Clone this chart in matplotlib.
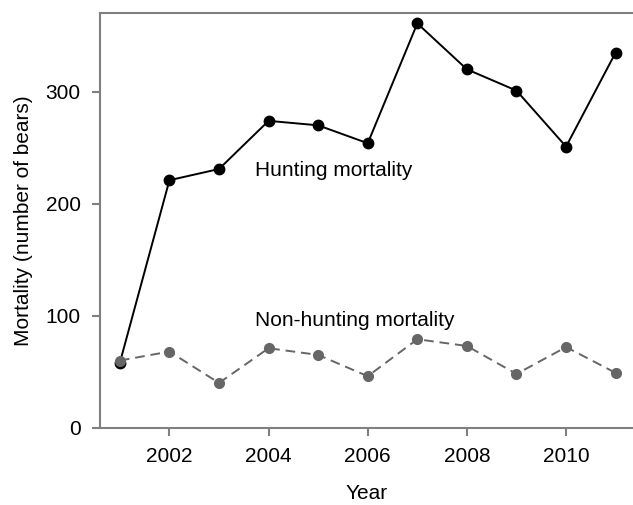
import numpy as np
from matplotlib import pyplot as plt

plt.rcParams['font.family'] = ['Liberation Sans', 'DejaVu Sans']

years = [2001, 2002, 2003, 2004, 2005, 2006, 2007, 2008, 2009, 2010, 2011]
hunting = [58, 221, 231, 274, 270, 254, 361, 320, 301, 251, 335]
non_hunting = [60, 68, 40, 71, 65, 46, 79, 73, 48, 72, 49]

fig = plt.figure(figsize=(6.33, 5.05), dpi=100)
ax = fig.add_axes([0.158, 0.153, 0.842, 0.8206])

ax.plot(years, hunting, color="black", lw=1.4, marker="o", ms=7.5, clip_on=False)
ax.plot(years, non_hunting, color="#666666", lw=1.4, ls=(0, (5, 3)), marker="o", ms=7, clip_on=False)

ax.text(2003.72, 230, "Hunting mortality", fontsize=15, va="center")
ax.text(2003.72, 96, "Non-hunting mortality", fontsize=15, va="center")

ax.set_xlim(2000.6, 2011.35)
ax.set_ylim(0, 370)
ax.set_xticks([2002, 2004, 2006, 2008, 2010])
ax.set_yticks([0, 100, 200, 300])

ax.spines["right"].set_visible(False)
for s in ["left", "top", "bottom"]:
    ax.spines[s].set_color("#808080")
    ax.spines[s].set_linewidth(1.5)
ax.tick_params(colors="#808080", labelcolor="black", labelsize=15, length=6, width=1.5, pad=8)

ax.set_xlabel("Year", fontsize=15, labelpad=13)
ax.set_ylabel("Mortality (number of bears)", fontsize=15, labelpad=9)

fig.savefig("out.png", dpi=100)
